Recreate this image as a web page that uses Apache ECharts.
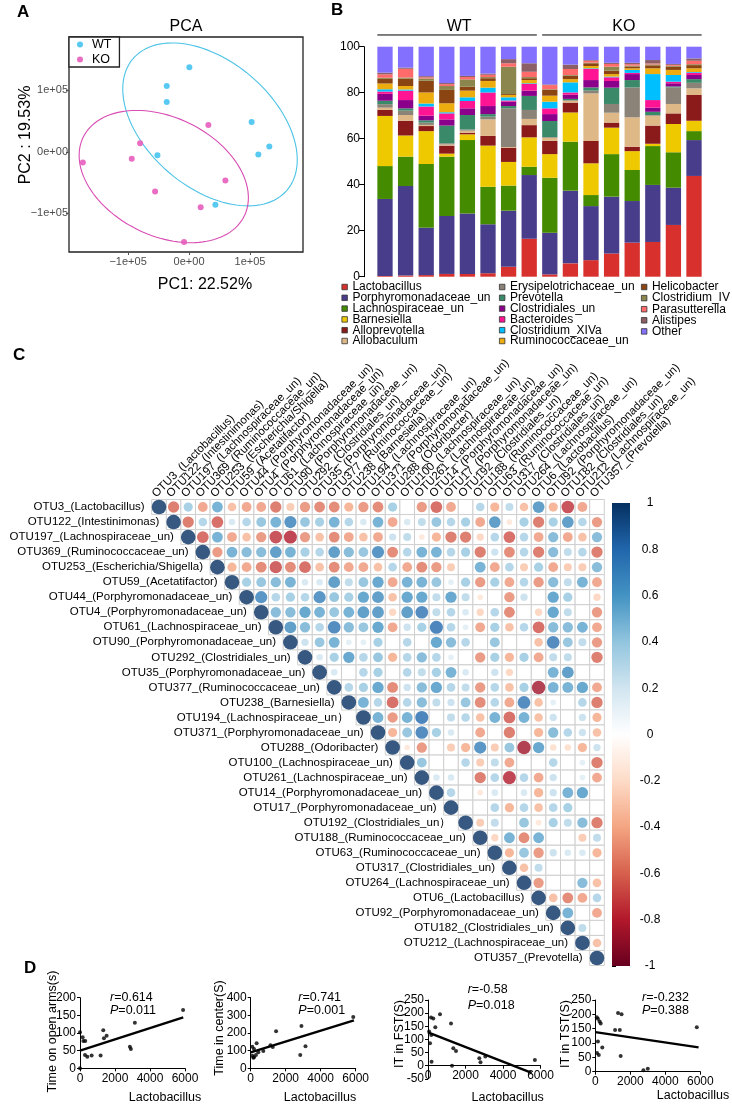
<!DOCTYPE html>
<html><head><meta charset="utf-8">
<script src="https://cdn.jsdelivr.net/npm/echarts@6/dist/echarts.min.js"></script>
<style>html,body{margin:0;padding:0;background:#fff}#c{width:732px;height:1106px}</style>
</head><body><div id="c"></div>
<script>
const FONT = '"Liberation Sans", Arial, Helvetica, sans-serif';

// ---------- Panel A: PCA (units of 1e5) ----------
const pcaWT = [[0.005,1.377],[-0.366,1.073],[-0.366,0.813],[1.027,0.488],[1.317,0.087],[1.137,-0.043],[-0.519,-0.054],[0.432,-0.862]];
const pcaKO = [[0.317,0.439],[-0.803,0.141],[-1.743,-0.173],[-0.940,-0.114],[0.596,-0.466],[-0.557,-0.645],[0.191,-0.900],[-0.082,-1.469]];
const ellipseWT = [0.344, 0.447, 1.656, 1.033, -40];   // cx, cy, semi-major, semi-minor, angle(deg)
const ellipseKO = [-0.415, -0.402, 1.469, 0.964, -25.6];
const pcaTicks = [-1, 0, 1];

// ---------- Panel B: stacked composition ----------
const samples = ['WT1','WT2','WT3','WT4','WT5','WT6','WT7','WT8','KO1','KO2','KO3','KO4','KO5','KO6','KO7','KO8'];
const groupLabels = ['WT','KO'];
const groupRanges = [[0,7],[8,15]];
const taxa = ['Lactobacillus','Porphyromonadaceae_un','Lachnospiraceae_un','Barnesiella','Alloprevotella','Allobaculum','Erysipelotrichaceae_un','Prevotella','Clostridiales_un','Bacteroides','Clostridium_XIVa','Ruminococcaceae_un','Helicobacter','Clostridium_IV','Parasutterella','Alistipes','Other'];
const taxaColors = ['#D7302D','#483D8B','#458B00','#EEC900','#8B1A1A','#DEB887','#8B8378','#3A8A6A','#8B008B','#FF1493','#00BFFF','#EEAD0E','#8B4513','#8B864E','#FF6A6A','#8B5F65','#8470FF'];
const vLactobacillus = [0.3,0.5,0.7,1.2,1.2,1.5,4.3,16.5,1,5.8,7.2,10.1,14.8,15.1,22.5,43.8];
const vPorphyromonadaceae = [33.5,38.9,20.6,25.2,26.3,21.3,24.4,27.7,18.1,31.6,23.5,24.7,18.1,24.8,16.2,15.6];
const vLachnospiraceae = [14.3,12.8,27.7,25.8,31.9,16.3,10.9,3.6,23.9,21.3,4.8,18.5,13.5,16.9,15.4,3.9];
const vBarnesiella = [21.8,9.2,14.3,1.3,2.5,17.9,10.3,12.8,10.3,12.7,13.8,11.5,8.2,1,12.3,4.5];
const vAlloprevotella = [2.6,6.4,2.2,3.5,0.7,4.2,6.2,5.3,5.8,4.3,9.7,2.2,1.9,7.9,4.6,11.2];
const vAllobaculum = [1,2.5,0.5,0.5,0.9,7.2,0.3,2.7,1.3,0.8,20.7,4.3,12.8,4.3,4.1,2.9];
const vErysipelotrichaceae = [1.5,1.9,1,0.5,0.5,1.2,16.8,3.9,0.3,0.3,1.2,3.8,13,0.3,7.2,2.4];
const vPrevotella = [1.5,1,1,7.7,6.3,1.1,1,6.1,7,0.5,1.4,7.1,3.2,1.4,0.4,1.6];
const vClostridiales = [3,3.6,2,2.7,2.9,3.5,1.9,2.3,3,1.8,3.2,2.9,2.6,1.8,1.4,1.8];
const vBacteroides = [1,4.1,4,2.6,3.2,5.9,0.5,2.9,2.5,1,4.8,1.6,0.5,3.3,0.7,1];
const vClostridiumXIVa = [1,0.5,1.3,0.5,1.6,2.1,1.4,0.3,2.9,4.4,0.3,0.3,1.3,11.3,2.9,0.3];
const vRuminococcaceae = [2.5,1.5,4.8,3.9,2.9,2.9,1,1.4,2.6,1.4,1,1.1,0.7,2.5,2.2,1.6];
const vHelicobacter = [2,3.2,5.1,5.8,1.7,1.2,0.4,0.8,2.5,1.5,1.2,1.5,0.8,1.3,1.4,1.4];
const vClostridiumIV = [0.5,0.5,1,1.7,3.2,0.5,11.9,0.5,0.3,0.3,0.3,1.7,0.4,0.4,0.4,0.4];
const vParasutterella = [1.5,3.8,0.5,0.8,1,1,1.5,2.3,1.8,2.6,0.8,1.2,0.6,0.4,0.4,1.5];
const vAlistipes = [0.7,0.5,0.5,0.5,0.5,0.5,1.8,3.7,0.3,1.9,0.3,0.5,0.6,1.5,0.4,1];
const vOther = [11.3,9.1,12.8,15.8,12.7,11.7,5.4,7.2,16.4,7.8,5.8,7,7,5.8,7.5,5.1];
const taxaValues = [vLactobacillus,vPorphyromonadaceae,vLachnospiraceae,vBarnesiella,vAlloprevotella,vAllobaculum,vErysipelotrichaceae,vPrevotella,vClostridiales,vBacteroides,vClostridiumXIVa,vRuminococcaceae,vHelicobacter,vClostridiumIV,vParasutterella,vAlistipes,vOther];
const barTicks = {min:0, max:100, interval:20};

// ---------- Panel C: correlation matrix ----------
const colLabels = ['OTU3_(Lactobacillus)','OTU122_(Intestinimonas)','OTU197_(Lachnospiraceae_un)','OTU369_(Ruminococcaceae_un)','OTU253_(Escherichia/Shigella)','OTU59_(Acetatifactor)','OTU44_(Porphyromonadaceae_un)','OTU4_(Porphyromonadaceae_un)','OTU61_(Lachnospiraceae_un)','OTU90_(Porphyromonadaceae_un)','OTU292_(Clostridiales_un)','OTU35_(Porphyromonadaceae_un)','OTU377_(Ruminococcaceae_un)','OTU238_(Barnesiella)','OTU194_(Lachnospiraceae_un)','OTU371_(Porphyromonadaceae_un)','OTU288_(Odoribacter)','OTU100_(Lachnospiraceae_un)','OTU261_(Lachnospiraceae_un)','OTU14_(Porphyromonadaceae_un)','OTU17_(Porphyromonadaceae_un)','OTU192_(Clostridiales_un)','OTU188_(Ruminococcaceae_un)','OTU63_(Ruminococcaceae_un)','OTU317_(Clostridiales_un)','OTU264_(Lachnospiraceae_un)','OTU6_(Lactobacillus)','OTU92_(Porphyromonadaceae_un)','OTU182_(Clostridiales_un)','OTU212_(Lachnospiraceae_un)','OTU357_(Prevotella)'];
const rowLabels = ['OTU3_(Lactobacillus)','OTU122_(Intestinimonas)','OTU197_(Lachnospiraceae_un)','OTU369_(Ruminococcaceae_un)','OTU253_(Escherichia/Shigella)','OTU59_(Acetatifactor)','OTU44_(Porphyromonadaceae_un)','OTU4_(Porphyromonadaceae_un)','OTU61_(Lachnospiraceae_un)','OTU90_(Porphyromonadaceae_un)','OTU292_(Clostridiales_un)','OTU35_(Porphyromonadaceae_un)','OTU377_(Ruminococcaceae_un)','OTU238_(Barnesiella)','OTU194_(Lachnospiraceae_un\uFF09','OTU371_(Porphyromonadaceae_un)','OTU288_(Odoribacter)','OTU100_(Lachnospiraceae_un)','OTU261_(Lachnospiraceae_un)','OTU14_(Porphyromonadaceae_un)','OTU17_(Porphyromonadaceae_un)','OTU192_(Clostridiales_un\uFF09','OTU188_(Ruminococcaceae_un)','OTU63_(Ruminococcaceae_un)','OTU317_(Clostridiales_un)','OTU264_(Lachnospiraceae_un)','OTU6_(Lactobacillus)','OTU92_(Porphyromonadaceae_un)','OTU182_(Clostridiales_un)','OTU212_(Lachnospiraceae_un)','OTU357_(Prevotella)'];
// upper triangle: corrRows[i] = r(i, j) for j = i+1 .. 30 (null = blank)
const corrRows = [
[-0.6,0.4,-0.45,0.55,-0.35,-0.45,-0.45,-0.6,-0.3,-0.5,-0.55,-0.55,-0.4,-0.5,-0.55,0.4,null,-0.5,-0.65,-0.45,null,0.35,-0.4,0.3,-0.35,0.65,-0.4,-0.75,-0.45,null],
[-0.6,0.35,-0.65,0.2,0.35,0.45,0.55,0.7,0.45,0.4,0.55,0.35,0.2,0.55,-0.45,0.2,0.3,0.45,0.35,0.4,-0.45,0.65,-0.15,0.4,-0.6,0.4,0.65,0.35,-0.5],
[-0.65,0.55,-0.45,-0.35,-0.5,-0.75,-0.8,-0.5,-0.35,-0.55,-0.45,-0.35,-0.45,0.25,0.3,-0.15,-0.4,-0.6,-0.6,-0.25,0.35,-0.65,0.35,-0.45,0.5,-0.45,-0.35,0.5],
[-0.5,0.55,0.5,0.5,0.65,0.55,0.4,0.35,0.65,0.5,0.45,0.7,-0.55,0.35,0.55,0.55,0.35,0.4,-0.6,0.25,-0.55,0.35,-0.6,0.5,0.3,0.35,-0.6],
[-0.4,-0.45,-0.55,-0.7,-0.55,-0.65,-0.35,-0.55,-0.45,-0.45,-0.35,0.35,-0.45,-0.55,-0.5,-0.3,null,0.55,-0.45,0.35,-0.3,0.4,-0.45,-0.3,-0.3,0.5],
[0.4,0.45,0.5,0.55,0.2,0.2,0.65,0.3,0.45,0.6,-0.45,0.55,0.55,0.45,0.15,0.4,-0.5,0.4,-0.45,0.35,-0.5,0.5,0.3,0.55,-0.45],
[0.7,0.35,0.4,0.35,0.7,0.45,0.4,0.6,0.65,-0.35,0.6,0.6,0.3,0.6,0.3,-0.15,null,-0.5,0.25,null,0.6,0.4,null,-0.25],
[0.5,0.5,0.6,0.55,0.45,0.55,0.65,0.65,-0.25,0.65,0.75,0.3,0.35,0.2,-0.25,0.35,-0.55,null,-0.25,0.6,0.3,null,-0.5],
[0.65,0.5,0.35,0.75,0.5,0.45,0.6,-0.45,0.25,0.4,0.8,0.35,0.15,-0.45,0.4,-0.35,0.35,-0.65,0.5,0.5,0.55,-0.45],
[0.25,0.45,0.55,0.15,0.15,0.4,null,0.35,null,0.6,0.5,0.35,null,0.45,null,null,-0.35,0.75,0.45,0.3,-0.5],
[0.2,0.4,0.6,0.35,0.45,-0.4,0.35,0.5,0.35,0.15,null,-0.5,0.4,-0.4,0.4,-0.45,0.3,0.3,null,-0.6],
[0.2,null,0.35,0.4,null,0.35,0.3,0.4,0.55,0.2,null,0.25,-0.25,null,null,0.55,0.65,null,null],
[0.35,0.4,0.6,-0.55,0.25,0.5,0.6,0.35,0.3,-0.5,0.35,-0.35,0.4,-0.85,0.55,0.55,0.6,-0.45],
[0.55,0.35,-0.65,0.35,0.5,0.3,0.25,0.45,-0.55,0.35,-0.45,0.75,-0.35,0.15,null,0.35,-0.6],
[0.55,-0.5,0.55,0.8,null,0.3,0.35,-0.35,0.55,-0.65,0.55,-0.35,0.25,null,0.25,-0.4],
[-0.4,0.45,0.75,0.4,0.2,null,-0.45,null,-0.6,null,-0.4,0.5,0.35,0.25,-0.35],
[-0.15,-0.5,null,-0.3,-0.4,0.7,-0.3,0.45,-0.85,0.6,-0.2,-0.2,-0.4,0.25],
[0.45,null,null,0.35,-0.3,0.3,-0.45,null,null,0.35,null,0.15,-0.6],
[0.2,0.2,null,-0.6,0.35,-0.8,0.35,-0.45,0.25,null,0.15,-0.45],
[0.35,null,-0.15,0.2,null,0.2,-0.4,0.25,0.55,0.6,null],
[null,null,0.35,-0.4,0.35,-0.35,0.35,0.4,null,null],
[-0.3,0.3,null,0.45,-0.15,0.4,0.3,0.5,-0.6],
[-0.25,0.55,-0.55,0.55,null,null,-0.3,0.3],
[-0.4,0.45,-0.5,0.25,0.2,0.2,-0.4],
[-0.35,0.3,null,null,null,null],
[-0.5,null,null,0.5,-0.35],
[-0.35,-0.55,-0.45,0.35],
[0.55,null,-0.45],
[0.3,null],
[-0.35],
[]
];
const rdbu = ['#67001F','#B2182B','#D6604D','#F4A582','#FDDBC7','#FFFFFF','#D1E5F0','#92C5DE','#4393C3','#2166AC','#053061'];
const cbarTicks = {min:-1, max:1, interval:0.2};

// ---------- Panel D: scatter + fit ----------
const d1X = [0,152,190,300,285,418,665,1330,1368,1520,1178,2850,2907,3135,5890,0];
const d1Y = [102,88,77,77,38,33,36,108,85,92,36,61,55,129,165,0];
const d1Fit = [[0,50],[5900,144]];
const d2X = [91,91,190,300,340,435,190,720,1130,1260,1450,2900,2830,3130,5860,150];
const d2Y = [122,71,62,75,142,91,109,98,130,120,210,240,75,125,290,60];
const d2Fit = [[0,90],[5900,272]];
const d3X = [160,283,390,640,176,107,190,1227,1350,1493,1280,2737,2800,3057,5700,60];
const d3Y = [183,180,146,196,117,85,15,161,66,56,0,28,13,35,22,130];
const d3Fit = [[0,127],[5530,-27]];
const d4X = [86,148,246,308,150,200,100,400,1130,1300,1400,1500,1450,2750,3000,5800];
const d4Y = [190,185,175,168,105,58,65,84,145,205,145,200,55,5,10,155];
const d4Fit = [[0,138],[5900,85]];
const dYNames = ['Time on open arms(s)','Time in center(S)','IT in FST(S)','IT in TST(S)'];
const statR = ['0.614','0.741','-0.58','-0.232'];
const statP = ['0.011','0.001','0.018','0.388'];

// ================= build =================
const chart = echarts.init(document.getElementById('c'), null, {renderer:'canvas'});
const series = [];
const pcaFmt = v => v === 0 ? '0e+00' : (v < 0 ? '\u22121e+05' : '1e+05');

// A
function ellipseSeries(params, color, name){
  return {type:'custom', name:name, xAxisIndex:0, yAxisIndex:0, data:[params], clip:true, z:2,
    renderItem:(p, api)=>{
      const cx=api.value(0), cy=api.value(1), a=api.value(2), b=api.value(3), th=api.value(4)*Math.PI/180;
      const pts=[];
      for(let k=0;k<=120;k++){const t=2*Math.PI*k/120;
        pts.push(api.coord([cx+a*Math.cos(t)*Math.cos(th)-b*Math.sin(t)*Math.sin(th), cy+a*Math.cos(t)*Math.sin(th)+b*Math.sin(t)*Math.cos(th)]));}
      return {type:'polyline', shape:{points:pts}, style:{stroke:color, fill:null, lineWidth:1.1}};
    }};
}
series.push(ellipseSeries(ellipseWT,'#4CC3E6','WTell'));
series.push(ellipseSeries(ellipseKO,'#D84CB3','KOell'));
series.push({type:'scatter', name:'WT', xAxisIndex:0, yAxisIndex:0, data:pcaWT, symbolSize:6, itemStyle:{color:'#4FC6F0', opacity:0.95}, z:3});
series.push({type:'scatter', name:'KO', xAxisIndex:0, yAxisIndex:0, data:pcaKO, symbolSize:6, itemStyle:{color:'#E75DBD', opacity:0.9}, z:3});

// B
taxa.forEach((t,k)=>{
  series.push({type:'bar', name:t, stack:'comp', xAxisIndex:1, yAxisIndex:1, data:taxaValues[k], barWidth:15.3, itemStyle:{color:taxaColors[k]}});
});
series.push({type:'custom', name:'groups', xAxisIndex:1, yAxisIndex:1, clip:false, data:groupRanges, z:5,
  renderItem:(p, api)=>{
    const s=api.coord([api.value(0),105.1]), e=api.coord([api.value(1),105.1]);
    const ty=api.coord([0,108.8])[1]; const bw=15.3;
    return {type:'group', children:[
      {type:'line', shape:{x1:s[0]-bw/2, y1:s[1], x2:e[0]+bw/2, y2:e[1]}, style:{stroke:'#000', lineWidth:1}},
      {type:'text', x:(s[0]+e[0])/2+2, y:ty, style:{text:groupLabels[p.dataIndex], align:'center', verticalAlign:'middle', fontSize:16, fontFamily:FONT, fill:'#000'}}
    ]};
  }});

// C
const cellData = [], circleData = [], labelData = [];
for(let i=0;i<31;i++){
  labelData.push([i,i]);
  cellData.push([i,i]); circleData.push([i,i,1]);
  corrRows[i].forEach((r,k)=>{ const j=i+1+k; cellData.push([j,i]); if(r!==null) circleData.push([j,i,r]); });
}
series.push({type:'custom', name:'cells', xAxisIndex:2, yAxisIndex:2, data:cellData, z:2,
  renderItem:(p, api)=>{
    const c=api.coord([api.value(0),api.value(1)]); const s=api.size([1,1]);
    return {type:'rect', shape:{x:c[0]-s[0]/2, y:c[1]-s[1]/2, width:s[0], height:s[1]}, style:{fill:'#fff', stroke:'#CFCFCF', lineWidth:1}};
  }});
const circleIdx = series.length;
series.push({type:'scatter', name:'corr', xAxisIndex:2, yAxisIndex:2, data:circleData, z:3,
  symbolSize: v => 14.6*Math.sqrt(Math.abs(v[2]))});
series.push({type:'custom', name:'rowlab', xAxisIndex:2, yAxisIndex:2, data:labelData, clip:false, z:4,
  renderItem:(p, api)=>{
    const c=api.coord([api.value(0),api.value(1)]); const s=api.size([1,1]);
    return {type:'text', x:c[0]-s[0]/2-7, y:c[1], style:{text:rowLabels[p.dataIndex], align:'right', verticalAlign:'middle', fontSize:11.5, fontFamily:FONT, fill:'#000'}};
  }});
// column labels (rotated 45°, starting at top of each column)
series.push({type:'custom', name:'collab', xAxisIndex:2, yAxisIndex:2, data:labelData, clip:false, z:4,
  renderItem:(p, api)=>{
    const c=api.coord([api.value(0),0]); const s=api.size([1,1]);
    return {type:'text', x:c[0]-5, y:c[1]-s[1]/2-4, rotation:Math.PI/4,
      style:{text:colLabels[p.dataIndex], align:'left', verticalAlign:'middle', fontSize:11.5, fontFamily:FONT, fill:'#000'}};
  }});
series.push({type:'custom', name:'cbar', xAxisIndex:3, yAxisIndex:3, data:[[0,1]], clip:false,
  renderItem:(p, api)=>{
    const a=api.coord([0,1]), b=api.coord([1,-1]);
    const stops = rdbu.map((c,k)=>({offset:1-k/(rdbu.length-1), color:c})).reverse();
    return {type:'rect', shape:{x:a[0], y:a[1], width:b[0]-a[0], height:b[1]-a[1]},
      style:{fill:new echarts.graphic.LinearGradient(0,0,0,1,stops)}};
  }});

// D
const dSets = [[d1X,d1Y,d1Fit],[d2X,d2Y,d2Fit],[d3X,d3Y,d3Fit],[d4X,d4Y,d4Fit]];
dSets.forEach((d,k)=>{
  series.push({type:'scatter', xAxisIndex:4+k, yAxisIndex:4+k, data:d[0].map((x,i)=>[x,d[1][i]]), symbolSize:4, itemStyle:{color:'#000'}, z:3});
  series.push({type:'line', xAxisIndex:4+k, yAxisIndex:4+k, data:d[2], symbol:'none', lineStyle:{color:'#000', width:2.4}, z:2});
});

function dAxis(gi, min, max, interval, offset){
  return {type:'value', gridIndex:gi, min:min, max:max, interval:interval, offset:offset||0,
    axisLine:{show:true, onZero:false, lineStyle:{color:'#000', width:1}},
    axisTick:{show:true, length:3, lineStyle:{color:'#000'}},
    axisLabel:{color:'#000', fontSize:12, margin:4, fontFamily:FONT, formatter:v=>String(v)},
    splitLine:{show:false}};
}

const xAxis = [
  {type:'value', gridIndex:0, min:-1.97, max:1.87, axisLine:{show:false, onZero:false}, splitLine:{show:false},
    axisTick:{show:true, customValues:pcaTicks, length:3, lineStyle:{color:'#555'}},
    axisLabel:{customValues:pcaTicks, formatter:pcaFmt, color:'#4D4D4D', fontSize:11, margin:4, fontFamily:FONT}},
  {type:'category', gridIndex:1, data:samples, show:false},
  {type:'category', gridIndex:2, data:colLabels, position:'top', axisLine:{show:false}, axisTick:{show:false},
    axisLabel:{show:false}, splitLine:{show:false}},
  {type:'value', gridIndex:3, min:0, max:1, show:false},
  dAxis(4,0,6000,2000), dAxis(5,0,6000,2000), dAxis(6,0,6000,2000,-13.1), dAxis(7,0,6000,2000)
];
const yAxis = [
  {type:'value', gridIndex:0, min:-1.63, max:1.87, axisLine:{show:false, onZero:false}, splitLine:{show:false},
    axisTick:{show:true, customValues:pcaTicks, length:3, lineStyle:{color:'#555'}},
    axisLabel:{customValues:pcaTicks, formatter:pcaFmt, color:'#4D4D4D', fontSize:11, margin:1, fontFamily:FONT}},
  {type:'value', gridIndex:1, min:barTicks.min, max:barTicks.max, interval:barTicks.interval, offset:10.7,
    axisLine:{show:true, lineStyle:{color:'#000'}}, axisTick:{show:true, length:5, lineStyle:{color:'#000'}},
    axisLabel:{color:'#000', fontSize:12, margin:4, fontFamily:FONT}, splitLine:{show:false}},
  {type:'category', gridIndex:2, data:rowLabels, inverse:true, show:false},
  {type:'value', gridIndex:3, min:cbarTicks.min, max:cbarTicks.max, interval:cbarTicks.interval, position:'right',
    axisLine:{show:false}, axisTick:{show:true, length:4, lineStyle:{color:'#000'}}, splitLine:{show:false},
    axisLabel:{color:'#000', fontSize:12, margin:20, align:'center', fontFamily:FONT, formatter:v=>String(parseFloat(v.toFixed(2)))}},
  dAxis(4,0,200,50), dAxis(5,0,400,100), dAxis(6,-50,250,50), dAxis(7,0,250,50)
];

const legendB = (names, left, gap) => ({
  data:names, orient:'vertical', left:left, top:281, padding:0, itemGap:gap, itemWidth:5.5, itemHeight:5.5, icon:'rect',
  itemStyle:{borderColor:'#333', borderWidth:0.8},
  textStyle:{fontSize:12, color:'#000', fontFamily:FONT}, selectedMode:false
});

function txt(text, x, y, size, opts){
  return Object.assign({type:'text', x:x, y:y, style:Object.assign({text:text, fontSize:size, fontFamily:FONT, fill:'#000', align:'center', verticalAlign:'middle'}, (opts&&opts.style)||{})}, (opts&&opts.el)||{});
}
const rich = {i:{fontStyle:'italic', fontSize:12.5, fontFamily:FONT}};
const statPos = [[110,998,1010.5],[298.3,998,1010.5],[467.7,990,1005.7],[642,998,1010.7]];
const yNamePos = [[53,1031.5],[220,1028],[399.3,1034],[565.3,1034]];
const xNamePos = [[165,1098],[320,1098],[507.7,1098],[693,1096]];
const graphic = [
  txt('A',17,12,17,{style:{fontWeight:'bold', align:'left'}}),
  txt('B',331,10,17,{style:{fontWeight:'bold', align:'left'}}),
  txt('C',13,355,17,{style:{fontWeight:'bold', align:'left'}}),
  txt('D',24,968,17,{style:{fontWeight:'bold', align:'left'}}),
  txt('PCA',186,27,16),
  txt('PC1: 22.52%',205,285,16),
  txt('PC2 : 19.53%',26,135,16,{el:{rotation:Math.PI/2}})
];
for(let k=0;k<4;k++){
  graphic.push(txt('{i|r}='+statR[k], statPos[k][0], statPos[k][1], 12.5, {style:{align:'left', rich:rich}}));
  graphic.push(txt('{i|P}='+statP[k], statPos[k][0], statPos[k][2], 12.5, {style:{align:'left', rich:rich}}));
  graphic.push(txt(dYNames[k], yNamePos[k][0], yNamePos[k][1], 12.5, {el:{rotation:Math.PI/2}}));
  graphic.push(txt('Lactobacillus', xNamePos[k][0], xNamePos[k][1], 12.5));
}

const option = {
  animation:false, backgroundColor:'#fff', textStyle:{fontFamily:FONT},
  grid:[
    {left:69, top:37, width:234, height:215, show:true, borderColor:'#222', borderWidth:1.3, backgroundColor:'rgba(0,0,0,0)'},
    {left:374.7, top:46.7, width:329.6, height:230},
    {left:151.7, top:499.5, width:452.6, height:466},
    {left:612, top:503, width:18, height:463},
    {left:80, top:997.7, width:105, height:70.6},
    {left:250.7, top:997.7, width:105, height:70.6},
    {left:428, top:1000, width:112.5, height:78.8},
    {left:595.3, top:1000, width:105, height:71.7}
  ],
  xAxis:xAxis, yAxis:yAxis,
  legend:[
    {data:['WT','KO'], orient:'vertical', left:69, top:37, padding:[1,8,1,8], itemGap:2, itemWidth:6, itemHeight:6, icon:'circle',
      borderColor:'#222', borderWidth:1.3, backgroundColor:'#fff', selectedMode:false,
      textStyle:{fontSize:12.5, color:'#000', fontFamily:FONT, padding:[0,0,0,4]}},
    legendB(taxa.slice(0,6), 341.5, -1.2),
    legendB(taxa.slice(6,12), 499, -1.2),
    legendB(taxa.slice(12), 641, -0.9)
  ],
  visualMap:{type:'continuous', show:false, min:-1, max:1, dimension:2, seriesIndex:circleIdx, inRange:{color:rdbu}},
  graphic:graphic,
  series:series
};
chart.setOption(option);
</script></body></html>
